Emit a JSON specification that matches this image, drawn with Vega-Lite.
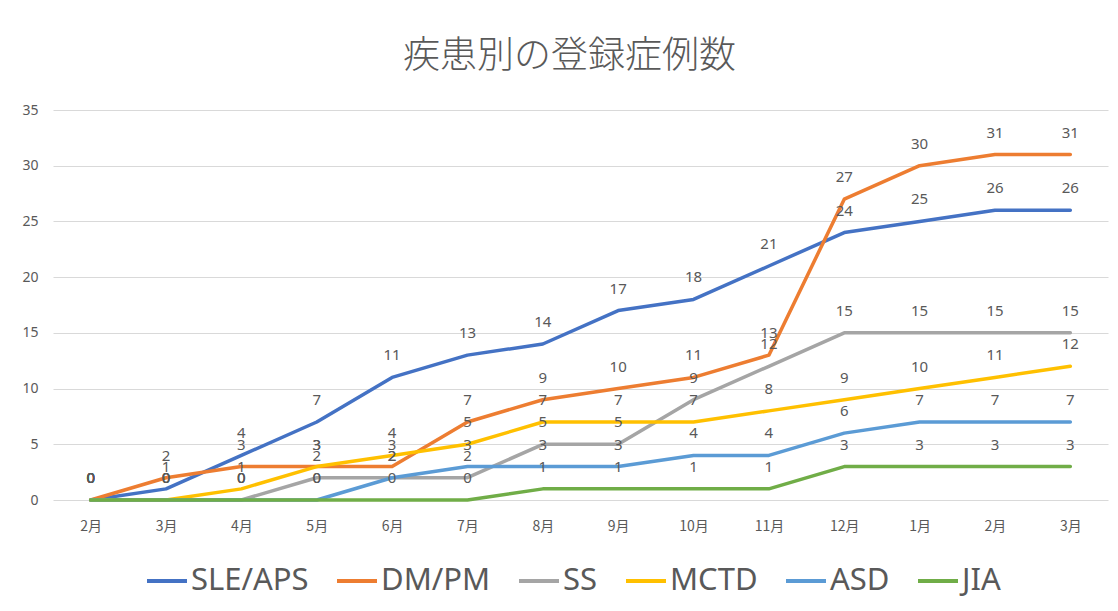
{
  "$schema": "https://vega.github.io/schema/vega-lite/v6.json",
  "width": 1055,
  "height": 390,
  "autosize": "none",
  "padding": {"left": 53, "top": 110, "right": 10, "bottom": 111},
  "background": "white",
  "title": {
    "text": "疾患別の登録症例数",
    "font": "Noto Sans CJK JP",
    "fontSize": 37,
    "fontWeight": 300,
    "color": "#595959",
    "anchor": "middle",
    "dx": -11,
    "offset": 27
  },
  "data": {
    "values": [
      {"date": "2019-02-15", "SLE/APS": 0, "DM/PM": 0, "SS": 0, "MCTD": 0, "ASD": 0, "JIA": 0},
      {"date": "2019-03-15", "SLE/APS": 1, "DM/PM": 2, "SS": 0, "MCTD": 0, "ASD": 0, "JIA": 0},
      {"date": "2019-04-15", "SLE/APS": 4, "DM/PM": 3, "SS": 0, "MCTD": 1, "ASD": 0, "JIA": 0},
      {"date": "2019-05-15", "SLE/APS": 7, "DM/PM": 3, "SS": 2, "MCTD": 3, "ASD": 0, "JIA": 0},
      {"date": "2019-06-15", "SLE/APS": 11, "DM/PM": 3, "SS": 2, "MCTD": 4, "ASD": 2, "JIA": 0},
      {"date": "2019-07-15", "SLE/APS": 13, "DM/PM": 7, "SS": 2, "MCTD": 5, "ASD": 3, "JIA": 0},
      {"date": "2019-08-15", "SLE/APS": 14, "DM/PM": 9, "SS": 5, "MCTD": 7, "ASD": 3, "JIA": 1},
      {"date": "2019-09-15", "SLE/APS": 17, "DM/PM": 10, "SS": 5, "MCTD": 7, "ASD": 3, "JIA": 1},
      {"date": "2019-10-15", "SLE/APS": 18, "DM/PM": 11, "SS": 9, "MCTD": 7, "ASD": 4, "JIA": 1},
      {"date": "2019-11-15", "SLE/APS": 21, "DM/PM": 13, "SS": 12, "MCTD": 8, "ASD": 4, "JIA": 1},
      {"date": "2019-12-15", "SLE/APS": 24, "DM/PM": 27, "SS": 15, "MCTD": 9, "ASD": 6, "JIA": 3},
      {"date": "2020-01-15", "SLE/APS": 25, "DM/PM": 30, "SS": 15, "MCTD": 10, "ASD": 7, "JIA": 3},
      {"date": "2020-02-15", "SLE/APS": 26, "DM/PM": 31, "SS": 15, "MCTD": 11, "ASD": 7, "JIA": 3},
      {"date": "2020-03-15", "SLE/APS": 26, "DM/PM": 31, "SS": 15, "MCTD": 12, "ASD": 7, "JIA": 3}
    ]
  },
  "transform": [
    {"fold": ["SLE/APS", "DM/PM", "SS", "MCTD", "ASD", "JIA"], "as": ["series", "value"]}
  ],
  "encoding": {
    "x": {
      "field": "date",
      "timeUnit": "yearmonth",
      "type": "ordinal",
      "scale": {"type": "point", "padding": 0.5},
      "axis": {
        "title": null,
        "format": "%-m月",
        "labelAngle": 0,
        "domain": false,
        "ticks": false,
        "grid": false,
        "labelPadding": 19,
        "labelFont": "Noto Sans CJK JP",
        "labelFontSize": 14,
        "labelColor": "#595959"
      }
    },
    "y": {
      "field": "value",
      "type": "quantitative",
      "scale": {"domain": [0, 35], "nice": false},
      "axis": {
        "title": null,
        "values": [0, 5, 10, 15, 20, 25, 30, 35],
        "domain": false,
        "ticks": false,
        "gridColor": "#D9D9D9",
        "gridWidth": 1.2,
        "labelPadding": 15,
        "labelFont": "Noto Sans",
        "labelFontSize": 14,
        "labelColor": "#595959"
      }
    }
  },
  "layer": [
    {
      "mark": {"type": "line", "strokeWidth": 3.5, "strokeCap": "round", "strokeJoin": "round"},
      "encoding": {
        "color": {
          "field": "series",
          "type": "nominal",
          "scale": {
            "domain": ["SLE/APS", "DM/PM", "SS", "MCTD", "ASD", "JIA"],
            "range": ["#4472C4", "#ED7D31", "#A5A5A5", "#FFC000", "#5B9BD5", "#70AD47"]
          },
          "legend": {
            "title": null,
            "orient": "none",
            "legendX": 92,
            "legendY": 449,
            "direction": "horizontal",
            "symbolType": "stroke",
            "symbolSize": 1600,
            "symbolStrokeWidth": 4,
            "labelFont": "Noto Sans",
            "labelFontSize": 31,
            "labelColor": "#595959",
            "labelOffset": 2,
            "columnPadding": 20
          }
        }
      }
    },
    {
      "mark": {"type": "text", "dy": -17, "baseline": "alphabetic", "fontSize": 15, "font": "Noto Sans", "color": "#595959"},
      "encoding": {
        "text": {"field": "value", "type": "quantitative"}
      }
    }
  ],
  "config": {"view": {"stroke": null}}
}
